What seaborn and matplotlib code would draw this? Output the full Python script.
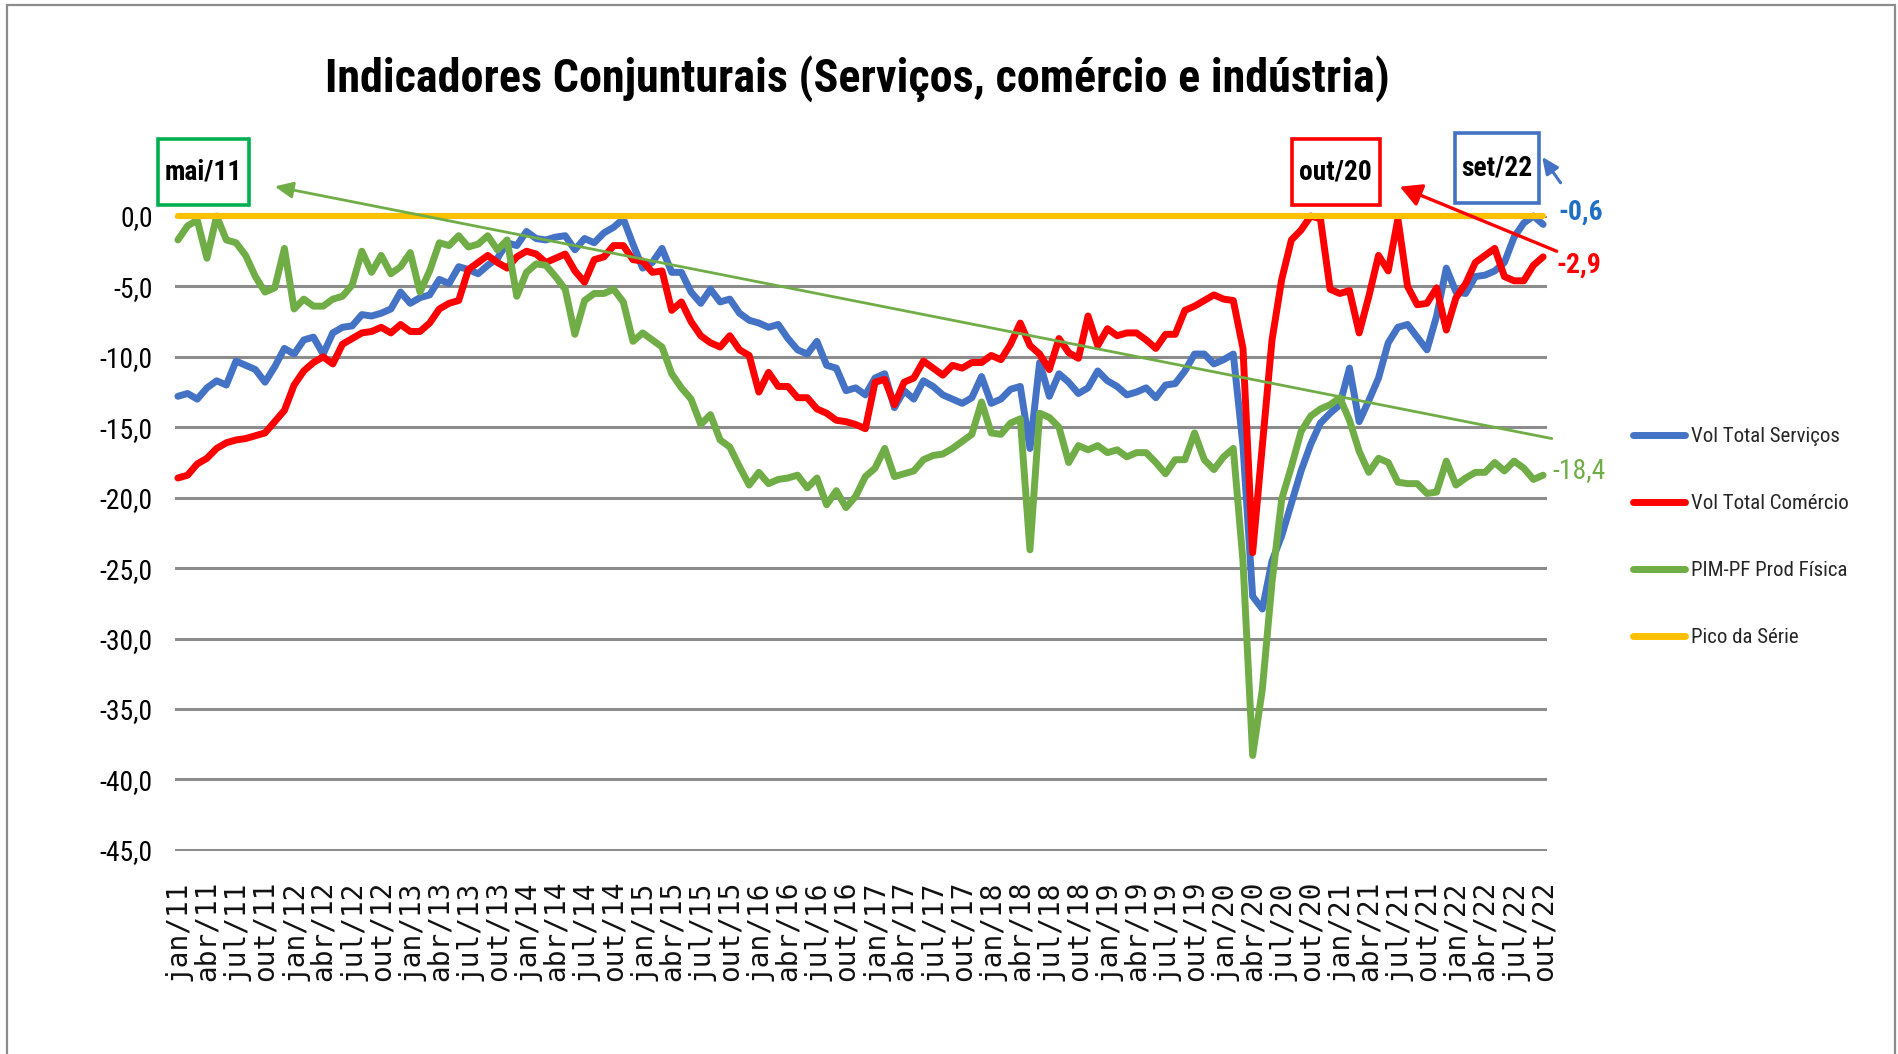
import numpy as np
import pandas as pd
import matplotlib
matplotlib.use("Agg")
import matplotlib.pyplot as plt
import seaborn as sns
from matplotlib import font_manager as fm
from matplotlib.patches import Rectangle
from matplotlib.lines import Line2D

# ---------------------------------------------------------------- data
meses = ["jan", "fev", "mar", "abr", "mai", "jun", "jul", "ago", "set", "out", "nov", "dez"]
periodos = [f"{m}/{a:02d}" for a in range(11, 23) for m in meses][:142]   # jan/11 .. out/22

# distance to the series peak (%), monthly
servicos = [
    -12.8, -12.6, -13.0, -12.2, -11.7, -12.0, -10.3, -10.6, -10.9, -11.8, -10.7, -9.4,
    -9.8, -8.8, -8.6, -9.8, -8.3, -7.9, -7.8, -7.0, -7.1, -6.9, -6.6, -5.4,
    -6.2, -5.8, -5.6, -4.5, -4.8, -3.6, -3.8, -4.1, -3.5, -3.0, -1.9, -2.1,
    -1.1, -1.6, -1.7, -1.5, -1.4, -2.4, -1.6, -1.9, -1.2, -0.8, -0.2, -2.0,
    -3.7, -3.3, -2.3, -4.0, -4.0, -5.4, -6.2, -5.2, -6.1, -5.9, -6.9, -7.4,
    -7.6, -7.9, -7.7, -8.7, -9.5, -9.8, -8.9, -10.6, -10.8, -12.4, -12.2, -12.7,
    -11.5, -11.2, -13.6, -12.4, -13.0, -11.7, -12.1, -12.7, -13.0, -13.3, -12.9, -11.4,
    -13.3, -13.0, -12.3, -12.1, -16.5, -10.4, -12.8, -11.2, -11.8, -12.6, -12.2, -11.0,
    -11.7, -12.1, -12.7, -12.5, -12.2, -12.9, -12.0, -11.9, -11.0, -9.8, -9.8, -10.5,
    -10.2, -9.8, -16.3, -27.0, -27.9, -24.5, -22.7, -20.4, -18.1, -16.2, -14.7, -14.0,
    -13.4, -10.8, -14.6, -13.1, -11.5, -9.0, -7.9, -7.7, -8.6, -9.5, -7.1, -3.7,
    -5.4, -5.5, -4.3, -4.2, -3.9, -3.3, -1.5, -0.5, 0.0, -0.6,
]
comercio = [
    -18.6, -18.4, -17.6, -17.2, -16.5, -16.1, -15.9, -15.8, -15.6, -15.4, -14.6, -13.8,
    -12.0, -11.0, -10.4, -10.0, -10.5, -9.1, -8.7, -8.3, -8.2, -7.9, -8.3, -7.7,
    -8.2, -8.2, -7.6, -6.6, -6.2, -6.0, -3.8, -3.3, -2.8, -3.3, -3.7, -2.9,
    -2.5, -2.7, -3.3, -3.0, -2.7, -3.9, -4.7, -3.1, -2.9, -2.1, -2.1, -3.1,
    -3.2, -4.0, -3.9, -6.7, -6.1, -7.5, -8.5, -9.0, -9.3, -8.5, -9.5, -9.9,
    -12.5, -11.1, -12.1, -12.1, -12.9, -12.9, -13.7, -14.0, -14.5, -14.6, -14.8, -15.1,
    -11.8, -11.6, -13.4, -11.8, -11.5, -10.3, -10.8, -11.3, -10.6, -10.8, -10.4, -10.4,
    -9.9, -10.2, -9.1, -7.6, -9.2, -9.8, -10.9, -8.7, -9.7, -10.1, -7.1, -9.2,
    -8.0, -8.5, -8.3, -8.3, -8.8, -9.4, -8.4, -8.4, -6.7, -6.4, -6.0, -5.6,
    -5.9, -6.0, -9.4, -23.9, -16.3, -8.8, -4.5, -1.7, -1.0, 0.0, -0.2, -5.2,
    -5.5, -5.3, -8.3, -5.7, -2.8, -3.9, -0.2, -5.0, -6.3, -6.2, -5.1, -8.1,
    -5.8, -4.8, -3.3, -2.8, -2.3, -4.3, -4.6, -4.6, -3.5, -2.9,
]
industria = [
    -1.7, -0.7, -0.3, -3.0, 0.0, -1.7, -1.9, -2.8, -4.3, -5.4, -5.1, -2.3,
    -6.6, -5.9, -6.4, -6.4, -5.9, -5.7, -4.9, -2.5, -4.0, -2.8, -4.1, -3.6,
    -2.6, -5.4, -3.9, -1.9, -2.1, -1.4, -2.2, -2.0, -1.4, -2.4, -1.7, -5.7,
    -4.0, -3.4, -3.5, -4.3, -5.2, -8.4, -6.0, -5.5, -5.5, -5.2, -6.1, -8.9,
    -8.3, -8.8, -9.3, -11.2, -12.2, -13.0, -14.8, -14.1, -15.9, -16.4, -17.8, -19.1,
    -18.2, -19.0, -18.7, -18.6, -18.4, -19.3, -18.6, -20.5, -19.5, -20.7, -19.9, -18.5,
    -17.9, -16.5, -18.5, -18.3, -18.1, -17.3, -17.0, -16.9, -16.5, -16.0, -15.5, -13.2,
    -15.4, -15.5, -14.7, -14.4, -23.7, -14.0, -14.3, -15.0, -17.5, -16.3, -16.6, -16.3,
    -16.8, -16.6, -17.1, -16.8, -16.8, -17.5, -18.3, -17.3, -17.3, -15.4, -17.3, -18.0,
    -17.1, -16.5, -24.5, -38.3, -33.6, -26.0, -20.1, -17.8, -15.3, -14.2, -13.7, -13.4,
    -12.9, -14.5, -16.7, -18.2, -17.2, -17.5, -18.9, -19.0, -19.0, -19.7, -19.6, -17.4,
    -19.1, -18.6, -18.2, -18.2, -17.5, -18.1, -17.4, -17.9, -18.7, -18.4,
]
pico = [0.0] * len(periodos)

series_nomes = ["Vol Total Serviços", "Vol Total Comércio", "PIM-PF Prod Física", "Pico da Série"]
series_vals = [servicos, comercio, industria, pico]
cores = ["#4472C4", "#FF0000", "#70AD47", "#FFC000"]

ticks_y = list(range(-45, 1, 5))
ticks_y_txt = [f"{v:.1f}".replace(".", ",") for v in ticks_y]

titulo = "Indicadores Conjunturais (Serviços, comércio e indústria)"


def br(v):
    return f"{v:.1f}".replace(".", ",")


# ---------------------------------------------------------------- fonts
_fontes = fm.fontManager.ttflist
_nomes = {f.name for f in _fontes}
FONTE, STRETCH = None, "normal"
for cand in ["Liberation Sans Narrow", "Roboto Condensed", "Noto Sans Condensed",
             "Open Sans Condensed", "DejaVu Sans Condensed"]:
    if cand in _nomes:
        FONTE = cand
        break
if FONTE is None:
    for fam in ["Noto Sans", "DejaVu Sans", "Roboto", "Open Sans"]:
        if any(f.name == fam and str(f.stretch) in ("condensed", "semi-condensed",
                                                    "extra-condensed") for f in _fontes):
            FONTE, STRETCH = fam, "condensed"
            break
if FONTE is None:
    FONTE = "Roboto" if "Roboto" in _nomes else "DejaVu Sans"

sns.set_theme(style="white")
plt.rcParams["font.family"] = [FONTE, "DejaVu Sans"]
plt.rcParams["font.stretch"] = STRETCH

# ---------------------------------------------------------------- figure
W, H = 1898, 1054


def fx(px):
    return px / W


def fy(py):
    return 1 - py / H


fig = plt.figure(figsize=(W / 100, H / 100), dpi=100)
fig.patch.set_facecolor("white")
renderer = fig.canvas.get_renderer()


def tamanho(txt, largura_px, **kw):
    """font size (pt) that makes txt span largura_px pixels"""
    t = fig.text(0, 0, txt, fontsize=20, **kw)
    w = t.get_window_extent(renderer).width
    t.remove()
    return 20 * largura_px / w


fs_titulo = tamanho(titulo, 1062, fontweight="bold")
fs_caixa = tamanho("mai/11", 77, fontweight="bold")
fs_legenda = tamanho("Vol Total Serviços", 149)
fs_eixo = tamanho("-10,0", 53)
fs_valor = tamanho("-18,4", 53)

# outer chart border
fig.add_artist(Rectangle((fx(7), -0.02), fx(1895) - fx(7), fy(5) + 0.02,
                         transform=fig.transFigure, fill=False,
                         ec="#8c8c8c", lw=1.6))

ax = fig.add_axes([fx(175), fy(851), fx(1547) - fx(175), (851 - 216) / H])

df = pd.concat(
    [pd.DataFrame({"mes": np.arange(len(v)), "valor": v, "serie": n})
     for n, v in zip(series_nomes, series_vals)],
    ignore_index=True,
)
sns.lineplot(data=df, x="mes", y="valor", hue="serie", hue_order=series_nomes,
             palette=dict(zip(series_nomes, cores)), linewidth=5.0,
             legend=False, sort=False, ax=ax)
for ln in ax.get_lines():
    ln.set_solid_joinstyle("round")
    ln.set_solid_capstyle("round")
    ln.set_clip_on(False)
ax.get_lines()[-1].set_linewidth(4.4)

ax.set_xlim(-0.3, len(periodos) - 1 + 0.4)
ax.set_ylim(-45.08, 0)
ax.set_xlabel("")
ax.set_ylabel("")
for s in ax.spines.values():
    s.set_visible(False)

ax.set_yticks(ticks_y)
ax.set_yticklabels(ticks_y_txt, fontsize=fs_eixo, color="black")
ax.yaxis.grid(True, color="#8c8c8c", lw=2.2)
ax.xaxis.grid(False)
ax.set_axisbelow(True)

pos_x = list(range(0, len(periodos), 3))
ax.set_xticks(pos_x)
ax.set_xticklabels([periodos[i] for i in pos_x], rotation=90,
                   fontfamily="DejaVu Sans Mono", fontstretch="normal",
                   fontsize=20, color="#111111")
ax.tick_params(axis="x", length=0, pad=21)
ax.tick_params(axis="y", length=0, pad=16)

# ---------------------------------------------------------------- title
fig.text(fx(857), fy(79), titulo, ha="center", va="center",
         fontsize=fs_titulo, fontweight="bold", color="black")

# ---------------------------------------------------------------- legend
em = fs_legenda * 100 / 72
handles = [Line2D([0], [0], color=c, lw=5.0, solid_capstyle="round") for c in cores]
fig.legend(handles, series_nomes, loc="center left",
           bbox_to_anchor=(fx(1633), fy(537)), frameon=False, fontsize=fs_legenda,
           handlelength=52 / em, handletextpad=6 / em,
           labelspacing=max(0.2, (74 - 1.25 * em) / em),
           borderpad=0, borderaxespad=0)

# ---------------------------------------------------------------- trend arrow & callouts
ultimo = len(periodos) - 1
ax.annotate("", xy=(10.0, 2.1), xytext=(ultimo + 0.9, -15.8),
            arrowprops=dict(arrowstyle="-|>,head_length=1.1,head_width=0.5",
                            color="#70AD47", lw=2, shrinkA=0, shrinkB=0,
                            mutation_scale=10),
            annotation_clip=False, zorder=6)
ax.annotate("", xy=(126.2, 2.08), xytext=(ultimo + 1.4, -2.5),
            arrowprops=dict(arrowstyle="-|>,head_length=1.3,head_width=0.7",
                            color="#FF0000", lw=2.4, shrinkA=0, shrinkB=0,
                            mutation_scale=10),
            annotation_clip=False, zorder=6)
ax.annotate("", xy=(ultimo - 0.1, 4.2), xytext=(ultimo + 1.8, 2.36),
            arrowprops=dict(arrowstyle="-|>,head_length=1.0,head_width=0.45",
                            color="#4472C4", lw=2.2, shrinkA=0, shrinkB=0,
                            mutation_scale=10),
            annotation_clip=False, zorder=6)

caixas = [("mai/11", "#00B050", 157.7, 139.3, 249.3, 205.0),
          ("out/20", "#FF0000", 1291.7, 139.3, 1380.0, 205.0),
          ("set/22", "#4472C4", 1455.0, 133.3, 1539.3, 202.7)]
for txt, cor, x0, y0, x1, y1 in caixas:
    fig.add_artist(Rectangle((fx(x0), fy(y1)), fx(x1) - fx(x0), fy(y0) - fy(y1),
                             transform=fig.transFigure, fc="white", ec=cor, lw=2.6))
    fig.text(fx((x0 + x1) / 2), fy((y0 + y1) / 2), txt, ha="center", va="center",
             fontsize=fs_caixa, fontweight="bold", color="black")

# end-of-series value labels
fig.text(fx(1581), fy(212), br(servicos[-1]), ha="center", va="center",
         fontsize=fs_valor, fontweight="bold", color="#1F6FC5")
fig.text(fx(1579), fy(265), br(comercio[-1]), ha="center", va="center",
         fontsize=fs_valor, fontweight="bold", color="#FF0000")
fig.text(fx(1579), fy(471), br(industria[-1]), ha="center", va="center",
         fontsize=fs_valor, color="#70AD47")

fig.savefig("out.png", dpi=100, facecolor="white")
